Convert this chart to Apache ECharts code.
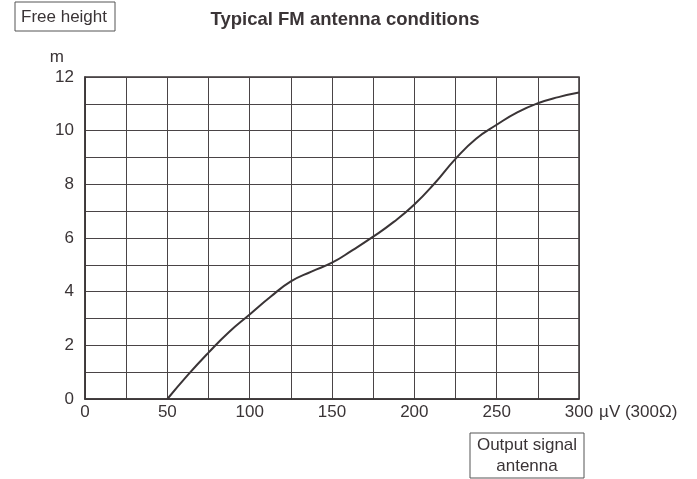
<!DOCTYPE html>
<html>
<head>
<meta charset="utf-8">
<script src="https://cdn.jsdelivr.net/npm/echarts@6/dist/echarts.min.js"></script>
<style>
html, body { margin: 0; padding: 0; background: #fff; }
#chart { width: 697px; height: 479px; }
</style>
</head>
<body>
<div id="chart"></div>
<script>
// output signal (µV) and free height (m)
var signal = [50, 62.5, 75, 87.5, 100, 112.5, 125, 137.5, 150, 162.5, 175, 187.5, 200, 212.5, 225, 237.5, 250, 262.5, 275, 287.5, 300];
var height = [0, 0.9, 1.73, 2.5, 3.15, 3.8, 4.38, 4.75, 5.08, 5.55, 6.05, 6.6, 7.25, 8.05, 8.95, 9.7, 10.22, 10.68, 11.02, 11.25, 11.42];
var xLabels = [0, 50, 100, 150, 200, 250, 300];
var yLabels = [0, 2, 4, 6, 8, 10, 12];

var ink = '#3a3436';
var font = 'Liberation Sans, Arial, sans-serif';
var chart = echarts.init(document.getElementById('chart'));

var option = {
    backgroundColor: '#ffffff',
    textStyle: { fontFamily: font },
    title: {
        text: 'Typical FM antenna conditions',
        left: 340,
        top: 5,
        textAlign: 'center',
        textStyle: { fontSize: 18.5, fontWeight: 'bold', color: ink }
    },
    grid: {
        left: 85,
        right: 118,
        top: 77,
        bottom: 80,
        show: true,
        borderColor: ink,
        borderWidth: 1.5
    },
    xAxis: {
        type: 'value',
        min: 0,
        max: 300,
        interval: 25,
        name: 'µV (300Ω)',
        nameLocation: 'end',
        nameGap: 19,
        nameTextStyle: { fontSize: 17, color: ink, verticalAlign: 'top', padding: [5, 0, 0, 0] },
        axisLine: { show: true, lineStyle: { color: ink, width: 1.5 } },
        axisTick: { show: false },
        splitLine: { show: true, lineStyle: { color: '#4a4446', width: 1 } },
        axisLabel: {
            margin: 5,
            fontSize: 17,
            color: ink,
            formatter: function (v) { return xLabels.indexOf(v) >= 0 ? String(v) : ''; }
        }
    },
    yAxis: {
        type: 'value',
        min: 0,
        max: 12,
        interval: 1,
        name: 'm',
        nameLocation: 'end',
        nameGap: 11,
        nameTextStyle: { fontSize: 17, color: ink, align: 'right', padding: [0, 21, 0, 0] },
        axisLine: { show: true, lineStyle: { color: ink, width: 1.5 } },
        axisTick: { show: false },
        splitLine: { show: true, lineStyle: { color: '#4a4446', width: 1 } },
        axisLabel: {
            margin: 11,
            fontSize: 17,
            color: ink,
            formatter: function (v) { return yLabels.indexOf(v) >= 0 ? String(v) : ''; }
        }
    },
    graphic: [
        {
            type: 'rect',
            shape: { x: 15, y: 2, width: 100, height: 29 },
            style: { fill: 'none', stroke: '#555', lineWidth: 1 }
        },
        {
            type: 'text',
            x: 64, y: 17,
            style: { text: 'Free height', fontSize: 17, fill: ink, align: 'center', verticalAlign: 'middle', fontFamily: font }
        },
        {
            type: 'rect',
            shape: { x: 470, y: 433, width: 114, height: 45 },
            style: { fill: 'none', stroke: '#555', lineWidth: 1 }
        },
        {
            type: 'text',
            x: 527, y: 456,
            style: { text: 'Output signal\nantenna', fontSize: 17, lineHeight: 21, fill: ink, align: 'center', verticalAlign: 'middle', fontFamily: font }
        }
    ],
    series: [{
        type: 'line',
        data: signal.map(function (s, i) { return [s, height[i]]; }),
        smooth: true,
        symbol: 'none',
        lineStyle: { color: ink, width: 2 }
    }]
};

chart.setOption(option);
</script>
</body>
</html>
